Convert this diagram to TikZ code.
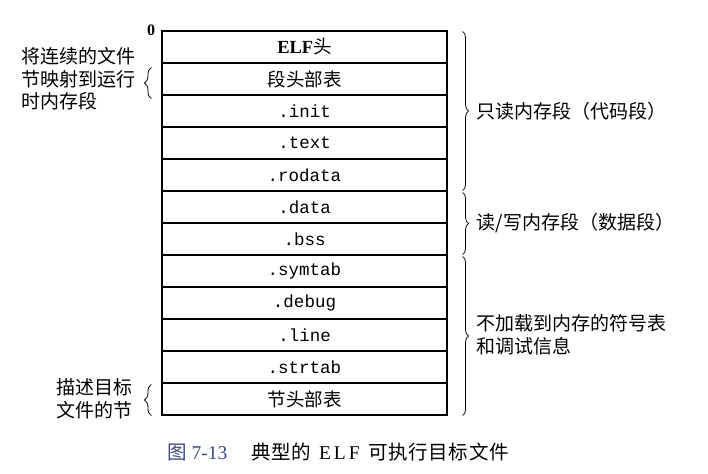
\documentclass[tikz,border=0pt]{standalone}
\usepackage{fontspec}
\setmainfont{Liberation Serif}
\setmonofont{Liberation Mono}
\newfontfamily\cjkfont{Noto Sans CJK SC}
\newfontfamily\capfont[LetterSpace=3]{Noto Sans CJK SC}
\usepackage{xcolor}
\usepackage{tikz}
\usetikzlibrary{positioning,decorations.pathreplacing}
\definecolor{capblue}{RGB}{58,74,128}

\begin{document}
\begin{tikzpicture}[x=1pt,y=-1pt,
		secbox/.style={draw=black,line width=1.1pt,minimum width=285pt,minimum height=32pt,inner sep=0pt,font=\fontsize{17.5}{20}\selectfont\ttfamily},
		cjkbox/.style={secbox,font=\fontsize{18.5}{22}\selectfont\cjkfont},
		sidelabel/.style={inner sep=0pt,align=left,font=\fontsize{19}{22.5}\selectfont\cjkfont},
		rbrace/.style={decorate,decoration={brace,amplitude=6pt},line width=0.8pt},
		lbrace/.style={decorate,decoration={brace,amplitude=7pt},line width=0.8pt}]
			\useasboundingbox (0,0) rectangle (708,473);
			
			\node[cjkbox] (elfhdr) at (304.5,47) {{\rmfamily\bfseries ELF}头};
			\node[cjkbox] (phdr) at (304.5,79) {段头部表};
			\node[secbox] (init) at (304.5,111) {.init};
			\node[secbox] (text) at (304.5,143) {.text};
			\node[secbox] (rodata) at (304.5,175) {.rodata};
			\node[secbox] (data) at (304.5,207) {.data};
			\node[secbox] (bss) at (304.5,239) {.bss};
			\node[secbox] (symtab) at (304.5,271) {.symtab};
			\node[secbox] (debug) at (304.5,303) {.debug};
			\node[secbox] (line) at (304.5,335) {.line};
			\node[secbox] (strtab) at (304.5,367) {.strtab};
			\node[cjkbox] (shdr) at (304.5,399) {节头部表};
			\node[inner sep=0pt,font=\fontsize{16}{18}\selectfont\bfseries] (zero) at (151,30) {0};
			
			% right side: segments
			\draw[rbrace] ([xshift=15pt,yshift=-1pt]elfhdr.north east) -- ([xshift=15pt,yshift=1pt]rodata.south east);
			\draw[rbrace] ([xshift=15pt,yshift=-2pt]data.north east) -- ([xshift=15pt,yshift=1pt]bss.south east);
			\draw[rbrace] ([xshift=15pt,yshift=-2pt]symtab.north east) -- ([xshift=15pt]shdr.south east);
			\node[sidelabel,right=29pt of init] (rolab) {只读内存段（代码段）};
			\node[sidelabel,right=29pt of data.south east] (rwlab) {读/写内存段（数据段）};
			\node[sidelabel,right=29pt of line] (nolab) {不加载到内存的符号表\\和调试信息};
			
			% left side
			\draw[lbrace] ([xshift=-10pt,yshift=-3pt]phdr.south west) -- ([xshift=-10pt,yshift=-5pt]phdr.north west);
			\draw[lbrace] ([xshift=-10pt]shdr.south west) -- ([xshift=-10pt,yshift=-2pt]shdr.north west);
			\node[sidelabel,left=26pt of phdr] (maplab) {将连续的文件\\节映射到运行\\时内存段};
			\node[sidelabel,left=29pt of shdr] (desclab) {描述目标\\文件的节};
			
			\node[inner sep=0pt,anchor=west,font=\fontsize{19.5}{24}\selectfont] (caption) at (167,452)
			{{\color{capblue}{\capfont 图}\hspace{5pt}7-13}\hspace{24pt}{\capfont 典型的}\hspace{8pt}{\addfontfeature{LetterSpace=15}ELF}\hspace{9pt}{\capfont 可执行目标文件}};
\end{tikzpicture}
\end{document}
